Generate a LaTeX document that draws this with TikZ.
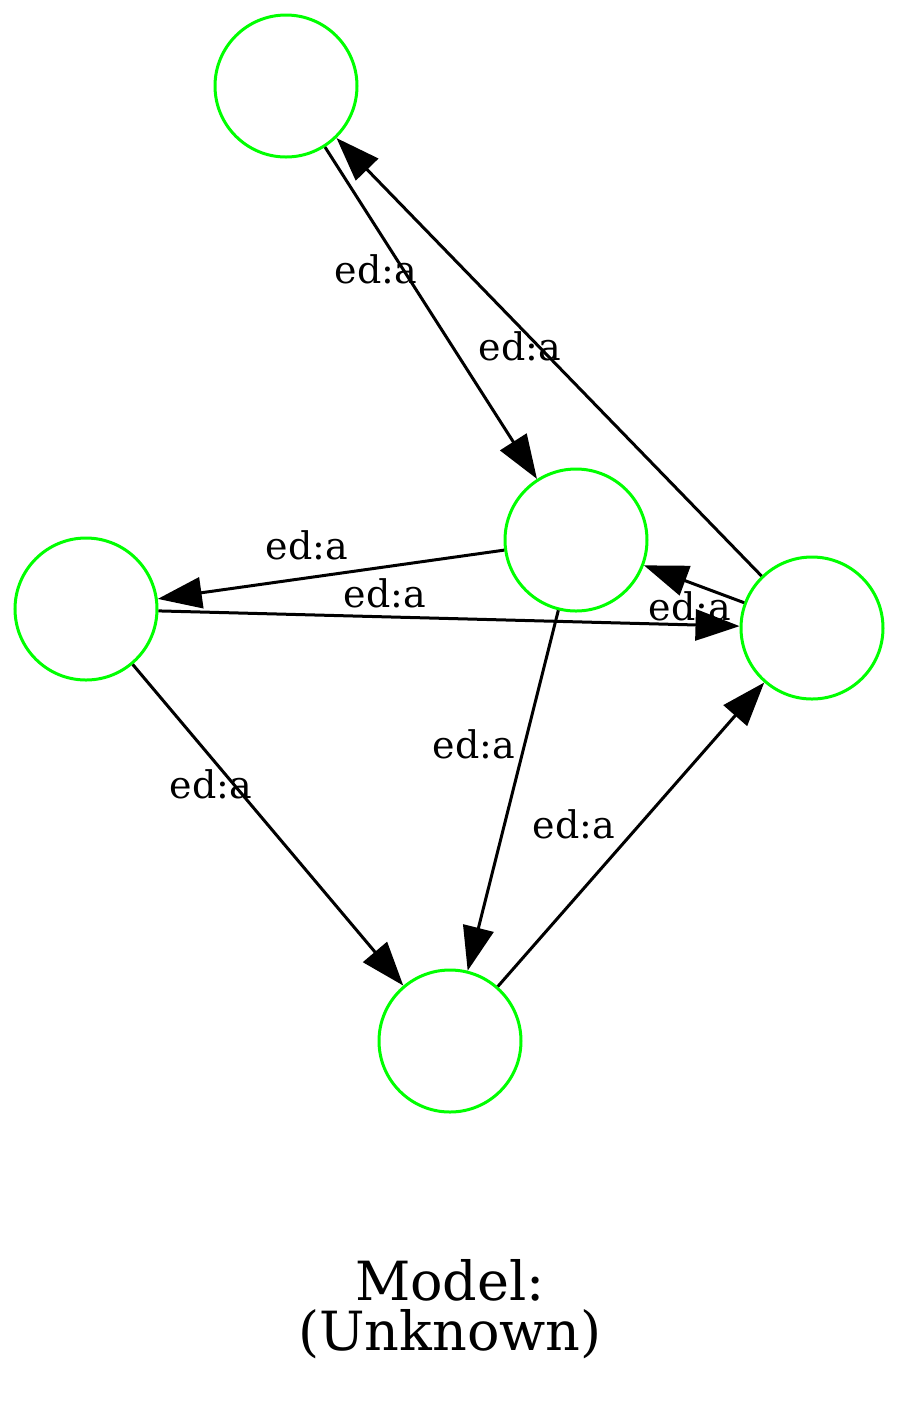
\documentclass[tikz,border=0pt]{standalone}
\usepackage{fontspec}
\setmainfont{DejaVu Serif}
\usetikzlibrary{arrows.meta}
\definecolor{nodegreen}{RGB}{0,255,0}
\tikzset{
  st/.style={circle, draw=nodegreen, line width=1.5pt, minimum size=71pt, inner sep=0pt},
  edge/.style={draw=black, line width=1.5pt, -{Triangle[length=22pt,width=15.5pt]}},
  lbl/.style={font=\fontsize{19}{23}\selectfont, inner sep=0pt, anchor=base},
  ttl/.style={font=\fontsize{27}{31}\selectfont, inner sep=0pt, anchor=base}
}
\begin{document}
\begin{tikzpicture}[x=0.5pt,y=-0.5pt]
\useasboundingbox (0,0) rectangle (900,1405);
\node[st] (A) at (286,86) {};
\node[st] (B) at (576,540) {};
\node[st] (C) at (86,609) {};
\node[st] (D) at (812,628) {};
\node[st] (E) at (450,1041) {};

\draw[edge] (A) -- (B);
\draw[edge] (D) -- (A);
\draw[edge] (B) -- (C);
\draw[edge] (C) -- (D);
\draw[edge] (D) -- (B);
\draw[edge] (B) -- (E);
\draw[edge] (C) -- (E);
\draw[edge] (E) -- (D);

\node[lbl] (l1) at (376,283) {ed:a};
\node[lbl] (l2) at (520,360) {ed:a};
\node[lbl] (l3) at (307,559) {ed:a};
\node[lbl] (l4) at (385,607) {ed:a};
\node[lbl] (l5) at (690,620) {ed:a};
\node[lbl] (l6) at (474,758) {ed:a};
\node[lbl] (l7) at (211,798) {ed:a};
\node[lbl] (l8) at (574,838) {ed:a};

\node[ttl] (t1) at (450,1300) {Model:};
\node[ttl] (t2) at (450,1350) {(Unknown)};
\end{tikzpicture}
\end{document}
